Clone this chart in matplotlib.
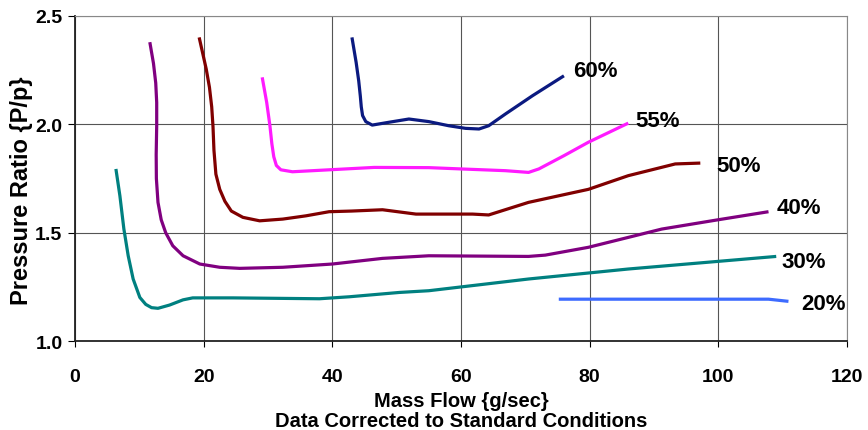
import numpy as np
import matplotlib.pyplot as plt

plt.rcParams["font.family"] = ["Liberation Sans", "DejaVu Sans"]
plt.rcParams["font.weight"] = "bold"

# mass flow (g/sec) and pressure ratio for each speed line
x60 = [43.05, 43.7, 44.1, 44.35, 44.5, 44.7, 45.2, 46.2, 48.8, 51.9, 55.0, 58.1, 60.7, 62.8, 64.3, 66.9, 71.1, 76.0]
y60 = [2.40, 2.285, 2.20, 2.13, 2.08, 2.04, 2.012, 1.996, 2.009, 2.024, 2.012, 1.993, 1.981, 1.978, 1.993, 2.047, 2.131, 2.223]

x55 = [29.1, 29.8, 30.3, 30.6, 30.9, 31.3, 32.0, 33.8, 39.5, 46.5, 55.0, 60.0, 66.9, 70.5, 72.1, 76.0, 79.8, 86.0]
y55 = [2.216, 2.10, 1.993, 1.91, 1.85, 1.81, 1.79, 1.781, 1.79, 1.801, 1.80, 1.794, 1.786, 1.778, 1.794, 1.855, 1.917, 2.005]

x50 = [19.3, 20.4, 20.9, 21.25, 21.45, 21.6, 21.9, 22.5, 23.3, 24.3, 26.1, 28.7, 32.3, 35.9, 39.5, 43.0, 47.8, 53.0, 55.0, 61.8, 64.3, 70.5, 79.8, 86.0, 93.3, 97.2]
y50 = [2.40, 2.254, 2.17, 2.08, 1.99, 1.88, 1.77, 1.70, 1.645, 1.60, 1.571, 1.555, 1.563, 1.578, 1.597, 1.60, 1.606, 1.586, 1.586, 1.586, 1.582, 1.64, 1.70, 1.763, 1.817, 1.821]

x40 = [11.63, 12.2, 12.55, 12.7, 12.7, 12.62, 12.65, 12.9, 13.4, 14.1, 15.2, 16.8, 19.4, 22.5, 25.6, 32.3, 40.0, 47.8, 55.0, 70.5, 73.1, 79.8, 91.2, 100.0, 107.8]
y40 = [2.378, 2.28, 2.19, 2.10, 1.993, 1.86, 1.75, 1.64, 1.56, 1.50, 1.44, 1.394, 1.356, 1.341, 1.336, 1.341, 1.356, 1.382, 1.394, 1.391, 1.397, 1.433, 1.517, 1.56, 1.597]

x30 = [6.36, 6.98, 7.6, 8.27, 9.04, 10.08, 11.0, 11.9, 12.9, 14.7, 16.8, 18.3, 24.5, 38.0, 42.6, 50.4, 55.0, 70.5, 86.0, 109.0]
y30 = [1.794, 1.67, 1.517, 1.394, 1.287, 1.202, 1.170, 1.155, 1.152, 1.167, 1.191, 1.20, 1.20, 1.196, 1.205, 1.225, 1.233, 1.287, 1.333, 1.391]

x20 = [75.2, 107.8, 110.9]
y20 = [1.194, 1.194, 1.184]

labels = ["60%", "55%", "50%", "40%", "30%", "20%"]
label_x = [77.5, 87.1, 99.7, 109.0, 109.8, 112.9]
label_y = [2.247, 2.016, 1.81, 1.617, 1.368, 1.176]

series = [(x60, y60), (x55, y55), (x50, y50), (x40, y40), (x30, y30), (x20, y20)]
colors = ["#0b1a80", "#ff1aff", "#800000", "#800080", "#008080", "#3d6bff"]

fig = plt.figure(figsize=(8.68, 4.31), dpi=100)
ax = fig.add_axes([0.0864, 0.2058, 0.8894, 0.7555])

for (xs, ys), c in zip(series, colors):
    ax.plot(xs, ys, color=c, linewidth=2.3, solid_capstyle="butt",
            solid_joinstyle="round", zorder=3)

for lab, lx, ly in zip(labels, label_x, label_y):
    ax.text(lx, ly, lab, fontsize=16, fontweight="bold", ha="left", va="center")

ax.set_xlim(0, 120)
ax.set_ylim(1.0, 2.5)
ax.set_xticks(np.arange(0, 121, 20))
ax.set_yticks([1.0, 1.5, 2.0, 2.5])
ax.set_yticklabels(["1.0", "1.5", "2.0", "2.5"])
ax.grid(True, color="#555555", linewidth=0.8, zorder=0)

ax.spines["left"].set_color("#222222")
ax.spines["bottom"].set_color("#222222")
ax.spines["left"].set_linewidth(1.3)
ax.spines["bottom"].set_linewidth(1.3)
ax.spines["top"].set_color("#888888")
ax.spines["right"].set_color("#888888")

ax.tick_params(axis="x", direction="out", length=4, pad=15, labelsize=14)
ax.tick_params(axis="y", direction="out", length=5, pad=4, labelsize=14)
for t in ax.get_xticklabels() + ax.get_yticklabels():
    t.set_fontweight("bold")

ax.set_xlabel("Mass Flow {g/sec}\nData Corrected to Standard Conditions",
              fontsize=14.5, fontweight="bold", labelpad=4.5, linespacing=1.05)
fig.text(22 / 868, 1 - 191 / 431, "Pressure Ratio {P/p}", fontsize=17,
         fontweight="bold", rotation=90, ha="center", va="center")

fig.savefig("out.png", dpi=100)
